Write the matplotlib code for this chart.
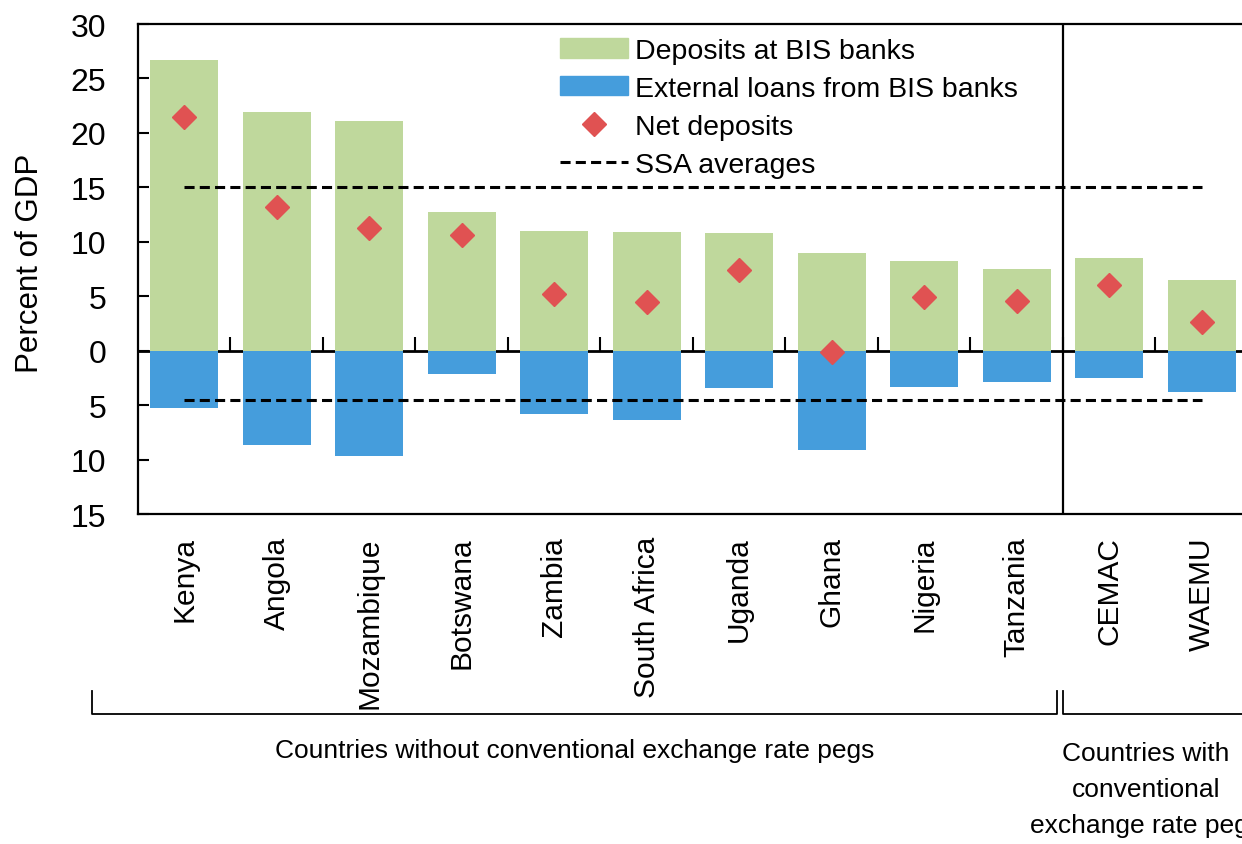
import matplotlib.pyplot as plt
from matplotlib.lines import Line2D
from matplotlib.patches import Patch
import matplotlib.transforms as mtransforms

plt.rcParams['font.family'] = ['Liberation Sans', 'DejaVu Sans']

countries = ['Kenya', 'Angola', 'Mozambique', 'Botswana', 'Zambia', 'South Africa',
             'Uganda', 'Ghana', 'Nigeria', 'Tanzania', 'CEMAC', 'WAEMU']
deposits = [26.7, 21.9, 21.1, 12.7, 11.0, 10.9, 10.8, 9.0, 8.2, 7.5, 8.5, 6.5]
loans = [-5.3, -8.7, -9.7, -2.1, -5.8, -6.4, -3.4, -9.1, -3.3, -2.9, -2.5, -3.8]
net = [21.5, 13.2, 11.3, 10.6, 5.2, 4.5, 7.4, -0.1, 4.9, 4.6, 6.0, 2.6]
ssa_deposits = 15.0
ssa_loans = -4.5
y_ticks = [30, 25, 20, 15, 10, 5, 0, -5, -10, -15]

green = '#BFD89C'
blue = '#459DDC'
red = '#E05252'

fig = plt.figure(figsize=(12.42, 8.45), dpi=100)
ax = fig.add_axes([0.1111, 0.3905, 0.8937, 0.5799])

x = list(range(len(countries)))
ax.bar(x, deposits, width=0.735, color=green, zorder=2)
ax.bar(x, loans, width=0.735, color=blue, zorder=2)
ax.plot(x, net, 'D', color=red, ms=12, zorder=5)
ax.hlines([ssa_deposits, ssa_loans], 0, len(x) - 1, colors='black', lw=2.2,
          linestyles=[(0, (3.3, 1.7))], zorder=4)
ax.axvline(len(x) - 2.5, color='black', lw=1.6, zorder=6)

ax.set_xlim(-0.5, len(x) - 0.5)
ax.set_ylim(-15, 30)
ax.set_yticks(y_ticks)
ax.set_yticklabels([str(abs(v)) for v in y_ticks], fontsize=23)
ax.tick_params(axis='y', direction='in', length=8, width=1.5, pad=23)
ax.set_xticks(x)
ax.set_xticklabels(countries, rotation=90, fontsize=21.5)
ax.tick_params(axis='x', length=0, pad=16)
for s in ax.spines.values():
    s.set_linewidth(1.6)
ax.spines['right'].set_visible(False)
ax.set_ylabel('Percent of GDP', fontsize=22.5)
ax.yaxis.set_label_coords(-0.0838, 0.514)

# zero line with upward ticks between categories
zero = ax.secondary_xaxis(15 / 45)
zero.set_xticks([i + 0.5 for i in x[:-1]])
zero.tick_params(direction='in', length=10, width=1.5, labelbottom=False, labeltop=False)
zero.spines['bottom'].set_linewidth(2)
zero.spines['bottom'].set_zorder(6)

handles = [Patch(color=green), Patch(color=blue),
           Line2D([], [], marker='D', ls='none', color=red, ms=12),
           Line2D([], [], color='black', lw=2.2, ls=(0, (3.3, 1.7)))]
labels = ['Deposits at BIS banks', 'External loans from BIS banks', 'Net deposits', 'SSA averages']
ax.legend(handles, labels, loc='upper left', bbox_to_anchor=(560 / 1242, 1 - 39 / 845),
          bbox_transform=fig.transFigure, frameon=False, fontsize=20.5,
          handlelength=2.4, handleheight=0.65, handletextpad=0.25, labelspacing=0.42,
          borderpad=0, borderaxespad=0)

# group brackets
tr = mtransforms.blended_transform_factory(ax.transData, fig.transFigure)
yb, yt = 1 - 715 / 845, 1 - 692 / 845
ax.plot([-1.0, -1.0, 9.44, 9.44], [yt, yb, yb, yt], color='black', lw=1.3,
        transform=tr, clip_on=False)
ax.plot([9.5, 9.5, 12.0], [yt, yb, yb], color='black', lw=1.3,
        transform=tr, clip_on=False)
fig.text(575 / 1242, 1 - 751 / 845, 'Countries without conventional exchange rate pegs',
         ha='center', va='center', fontsize=19)
fig.text(1146 / 1242, 1 - 790 / 845, 'Countries with\nconventional\nexchange rate pegs',
         ha='center', va='center', fontsize=19, linespacing=1.65)

fig.savefig('out.png', dpi=100)
